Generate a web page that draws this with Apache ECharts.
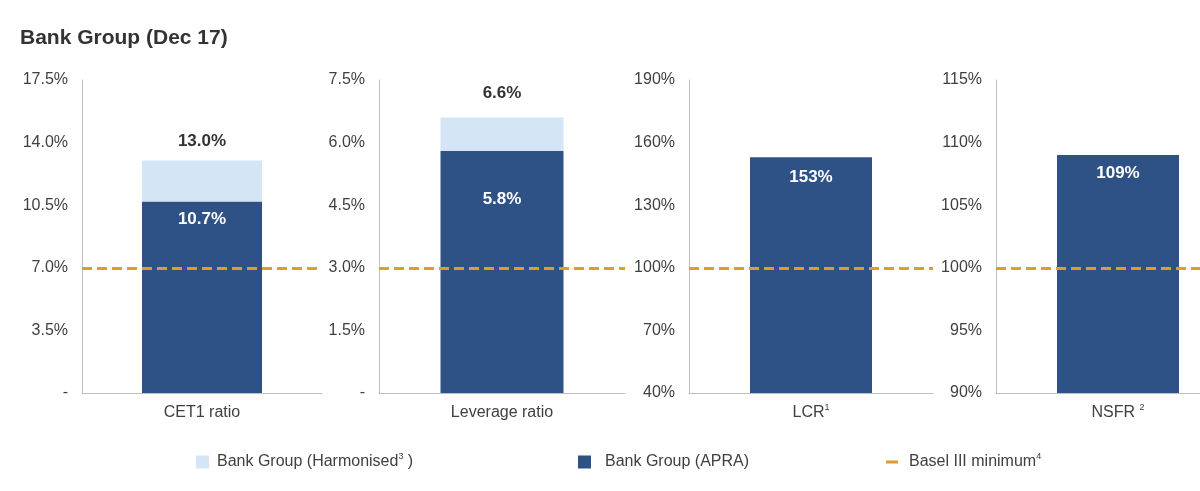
<!DOCTYPE html>
<html>
<head>
<meta charset="utf-8">
<script src="https://cdn.jsdelivr.net/npm/echarts@6/dist/echarts.min.js"></script>
<style>html,body{margin:0;padding:0;background:#fff;}#c{width:1200px;height:491px;}</style>
</head>
<body>
<div id="c"></div>
<script>
// ---- data ----
const categories = ['CET1 ratio', 'Leverage ratio', 'LCR', 'NSFR'];
const categorySup = ['', '', '1', '2'];
const apraValues = [10.7, 5.8, 153, 109];
const harmonisedTotals = [13.0, 6.6, null, null];
const baselMinimum = [7.0, 3.0, 100, 100];
const axisMin = [0, 0, 40, 90];
const axisMax = [17.5, 7.5, 190, 115];
const axisInterval = [3.5, 1.5, 30, 5];
const decimals = [1, 1, 0, 0];

// ---- styling ----
const DARK = '#2E5186', LIGHT = '#D4E6F5', ORANGE = '#E09B28', TXT = '#404040', AX = '#BFBFBF';
const FONT = 'Liberation Sans, Arial, sans-serif';
const gridLeft = [82, 379, 689, 996];
const gridWidth = [240, 246, 244, 244];
const insideDist = [9, 40, 12, 10];
const topDist = [11, 16, 0, 0];

const supRich = {fontSize: 9, lineHeight: 9, verticalAlign: 'top', color: TXT, fontFamily: FONT};

const grids = [], xAxes = [], yAxes = [], series = [];
categories.forEach((cat, i) => {
  grids.push({left: gridLeft[i], width: gridWidth[i], top: 80, height: 313, outerBoundsMode: 'none', containLabel: false});
  xAxes.push({
    type: 'category', gridIndex: i, data: [cat],
    axisLine: {lineStyle: {color: AX, width: 1}}, axisTick: {show: false},
    axisLabel: {
      margin: 10, color: TXT, fontSize: 16, fontFamily: FONT,
      formatter: v => '{t|' + v + (categorySup[i] ? (i === 3 ? ' ' : '') + '}{s|' + categorySup[i] + '}' : '}'),
      rich: {t: {fontSize: 16, lineHeight: 20, color: TXT, fontFamily: FONT}, s: supRich}
    }
  });
  yAxes.push({
    type: 'value', gridIndex: i, min: axisMin[i], max: axisMax[i], interval: axisInterval[i],
    axisLine: {show: true, lineStyle: {color: AX, width: 1}}, axisTick: {show: false},
    splitLine: {show: false},
    axisLabel: {
      margin: 14, color: TXT, fontSize: 16, fontFamily: FONT,
      formatter: v => (v === 0 ? '-' : v.toFixed(decimals[i]) + '%')
    }
  });
  series.push({
    name: 'Bank Group (APRA)', type: 'bar', xAxisIndex: i, yAxisIndex: i, stack: 's' + i,
    barWidth: '50%', itemStyle: {color: DARK},
    data: [apraValues[i]],
    label: {
      show: true, position: 'insideTop', distance: insideDist[i],
      color: '#fff', fontWeight: 'bold', fontSize: 17, fontFamily: FONT,
      formatter: p => p.value.toFixed(decimals[i]) + '%'
    }
  });
  if (harmonisedTotals[i] != null) {
    series.push({
      name: 'Bank Group (Harmonised)', type: 'bar', xAxisIndex: i, yAxisIndex: i, stack: 's' + i,
      barWidth: '50%', itemStyle: {color: LIGHT},
      data: [+(harmonisedTotals[i] - apraValues[i]).toFixed(4)],
      label: {
        show: true, position: 'top', distance: topDist[i],
        color: '#333', fontWeight: 'bold', fontSize: 17, fontFamily: FONT,
        formatter: () => harmonisedTotals[i].toFixed(decimals[i]) + '%'
      }
    });
  }
  series.push({
    name: 'Basel III minimum', type: 'line', xAxisIndex: i, yAxisIndex: i, data: [],
    itemStyle: {color: ORANGE}, lineStyle: {color: ORANGE},
    markLine: {
      silent: true, symbol: ['none', 'none'], label: {show: false},
      lineStyle: {color: ORANGE, width: 3, type: [10, 5]},
      data: [{yAxis: baselMinimum[i]}]
    }
  });
});

function legendText(padLeft) {
  return {color: TXT, fontSize: 16, fontFamily: FONT,
    rich: {t: {fontSize: 16, lineHeight: 20, color: TXT, fontFamily: FONT, padding: [0, 0, 0, padLeft]},
           u: {fontSize: 16, lineHeight: 20, color: TXT, fontFamily: FONT},
           s: supRich}};
}

const option = {
  animation: false,
  title: {text: 'Bank Group (Dec 17)', left: 15, top: 23,
    textStyle: {fontSize: 21, fontWeight: 'bold', color: '#333', fontFamily: FONT}},
  legend: [
    {data: [{name: 'Bank Group (Harmonised)', icon: 'rect'}], left: 191, top: 447, itemWidth: 13, itemHeight: 13,
      formatter: () => '{t|Bank Group (Harmonised}{s|3}{u| )}', textStyle: legendText(3), selectedMode: false},
    {data: [{name: 'Bank Group (APRA)', icon: 'rect'}], left: 573, top: 449, itemWidth: 13, itemHeight: 13,
      formatter: n => '{t|' + n + '}', textStyle: legendText(9), selectedMode: false},
    {data: [{name: 'Basel III minimum', icon: 'rect'}], left: 881, top: 447, itemWidth: 12, itemHeight: 3,
      formatter: n => '{t|' + n + '}{s|4}', textStyle: legendText(6), selectedMode: false}
  ],
  grid: grids, xAxis: xAxes, yAxis: yAxes, series: series
};
echarts.init(document.getElementById('c'), null, {renderer: 'canvas'}).setOption(option);
</script>
</body>
</html>
